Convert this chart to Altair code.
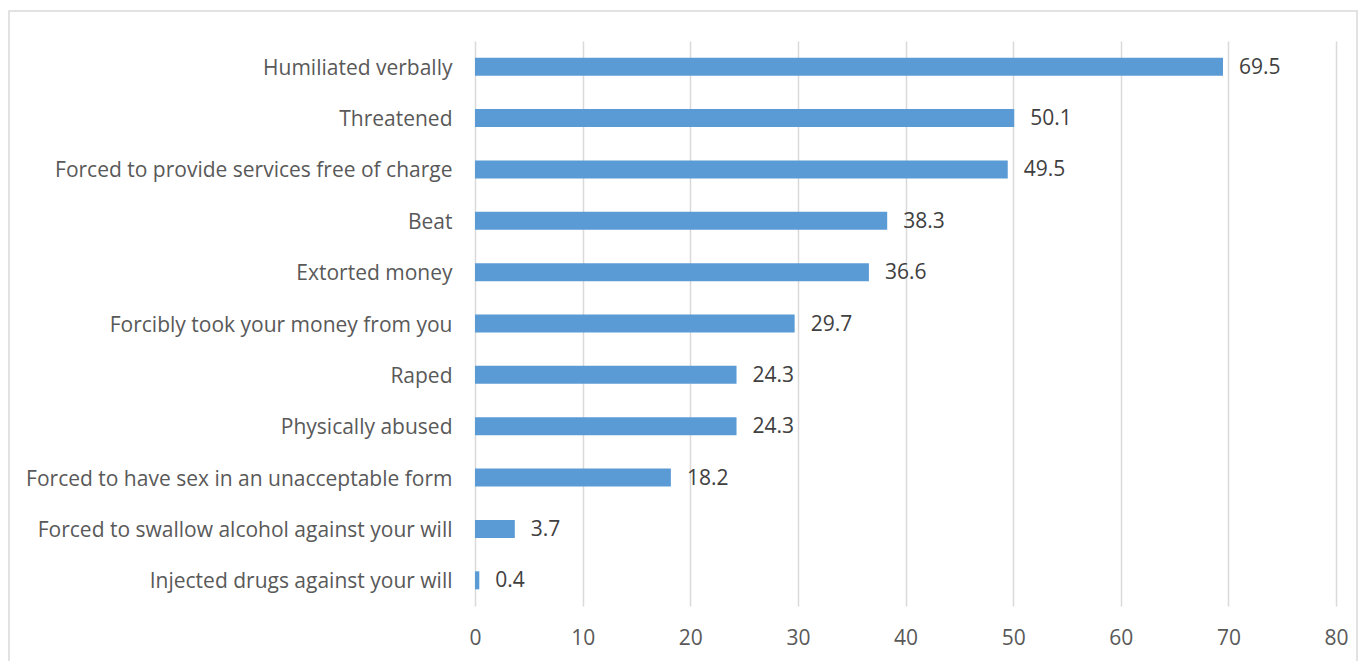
import altair as alt
import pandas as pd

categories = [
    "Humiliated verbally",
    "Threatened",
    "Forced to provide services free of charge",
    "Beat",
    "Extorted money",
    "Forcibly took your money from you",
    "Raped",
    "Physically abused",
    "Forced to have sex in an unacceptable form",
    "Forced to swallow alcohol against your will",
    "Injected drugs against your will",
]
values = [69.5, 50.1, 49.5, 38.3, 36.6, 29.7, 24.3, 24.3, 18.2, 3.7, 0.4]
x_ticks = [0, 10, 20, 30, 40, 50, 60, 70, 80]

df = pd.DataFrame({"category": categories, "value": values})
df["label"] = [f"{v:.1f}" for v in values]

FONT = "Open Sans"
FS = 21
TXT = "#595959"

base = alt.Chart(df)

bars = base.mark_bar(color="#5B9BD5", size=18).encode(
    x=alt.X(
        "value:Q",
        scale=alt.Scale(domain=[0, 80], nice=False),
        axis=alt.Axis(
            values=x_ticks,
            title=None,
            grid=True,
            gridColor="#D9D9D9",
            gridWidth=1.5,
            domain=False,
            ticks=False,
            labelFlush=False,
            labelFont=FONT,
            labelFontSize=FS,
            labelColor=TXT,
            labelPadding=21,
        ),
    ),
    y=alt.Y(
        "category:N",
        sort=categories,
        axis=alt.Axis(
            title=None,
            domain=False,
            ticks=False,
            labelFont=FONT,
            labelFontSize=FS,
            labelColor=TXT,
            labelPadding=23,
            labelOffset=2,
            labelLimit=600,
        ),
    ),
)

text = base.mark_text(
    align="left", baseline="middle", dx=16, dy=1, font=FONT, fontSize=FS, color="#404040"
).encode(
    x="value:Q",
    y=alt.Y("category:N", sort=categories),
    text="label:N",
)

border = alt.Chart(pd.DataFrame({"a": [0]})).mark_rect(
    fill=None, stroke="#D9D9D9", strokeWidth=1.5, clip=False
).encode(
    x=alt.value(-466),
    x2=alt.value(882),
    y=alt.value(-30),
    y2=alt.value(700),
)

chart = (
    alt.layer(border, bars, text)
    .properties(
        width=861,
        height=565,
        autosize=alt.AutoSizeParams(type="none"),
        padding={"left": 475, "top": 41, "right": 30, "bottom": 55},
        background="white",
    )
    .configure_view(stroke=None)
)

chart.save("out.html", embed_options={"renderer": "svg", "actions": False})
